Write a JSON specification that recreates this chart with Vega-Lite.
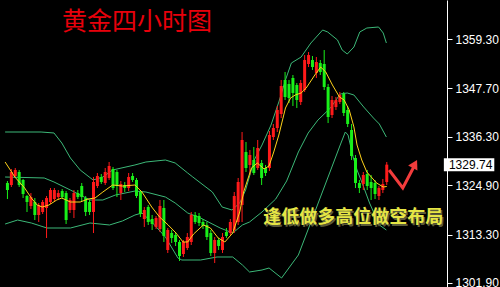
{
  "$schema": "https://vega.github.io/schema/vega-lite/v6.json",
  "width": 447,
  "height": 287,
  "autosize": {"type": "none"},
  "padding": {"left": 0, "top": 0, "right": 53, "bottom": 0},
  "background": "#000000",
  "config": {
    "view": {"stroke": null},
    "axis": {"grid": false}
  },
  "datasets": {
    "candles": [
      {"t":0,"o":1325.42,"h":1325.89,"l":1321.65,"c":1323.77},
      {"t":1,"o":1324.95,"h":1328.72,"l":1324.48,"c":1328.01},
      {"t":2,"o":1327.07,"h":1328.95,"l":1326.83,"c":1328.48},
      {"t":3,"o":1328.01,"h":1328.48,"l":1324.48,"c":1324.95},
      {"t":4,"o":1326.13,"h":1326.37,"l":1321.89,"c":1322.83},
      {"t":5,"o":1322.36,"h":1322.59,"l":1318.60,"c":1320.95},
      {"t":6,"o":1320.01,"h":1323.06,"l":1319.31,"c":1322.12},
      {"t":7,"o":1320.95,"h":1321.89,"l":1316.71,"c":1317.89},
      {"t":8,"o":1317.89,"h":1320.71,"l":1316.24,"c":1320.24},
      {"t":9,"o":1318.60,"h":1321.42,"l":1318.13,"c":1320.95},
      {"t":10,"o":1319.54,"h":1322.36,"l":1312.48,"c":1321.89},
      {"t":11,"o":1320.95,"h":1324.24,"l":1320.48,"c":1323.77},
      {"t":12,"o":1321.65,"h":1324.24,"l":1321.18,"c":1323.77},
      {"t":13,"o":1322.12,"h":1323.77,"l":1321.65,"c":1323.06},
      {"t":14,"o":1323.53,"h":1324.01,"l":1321.65,"c":1322.12},
      {"t":15,"o":1323.06,"h":1323.53,"l":1315.77,"c":1316.71},
      {"t":16,"o":1319.07,"h":1321.89,"l":1318.36,"c":1321.42},
      {"t":17,"o":1319.07,"h":1323.77,"l":1317.18,"c":1323.06},
      {"t":18,"o":1323.06,"h":1323.77,"l":1321.65,"c":1322.12},
      {"t":19,"o":1324.71,"h":1325.42,"l":1321.18,"c":1322.12},
      {"t":20,"o":1321.89,"h":1322.36,"l":1317.65,"c":1318.60},
      {"t":21,"o":1320.95,"h":1321.42,"l":1317.89,"c":1318.60},
      {"t":22,"o":1318.60,"h":1326.83,"l":1313.65,"c":1325.66},
      {"t":23,"o":1324.71,"h":1327.77,"l":1324.24,"c":1327.07},
      {"t":24,"o":1326.83,"h":1327.54,"l":1325.19,"c":1325.66},
      {"t":25,"o":1325.42,"h":1328.95,"l":1324.95,"c":1328.01},
      {"t":26,"o":1326.60,"h":1330.36,"l":1326.13,"c":1329.42},
      {"t":27,"o":1328.72,"h":1329.19,"l":1323.77,"c":1324.24},
      {"t":28,"o":1328.01,"h":1328.48,"l":1322.12,"c":1324.71},
      {"t":29,"o":1323.06,"h":1325.89,"l":1321.42,"c":1325.19},
      {"t":30,"o":1324.95,"h":1325.66,"l":1323.30,"c":1324.24},
      {"t":31,"o":1324.24,"h":1327.77,"l":1323.53,"c":1326.83},
      {"t":32,"o":1327.07,"h":1327.77,"l":1325.66,"c":1326.13},
      {"t":33,"o":1326.13,"h":1326.60,"l":1321.89,"c":1322.36},
      {"t":34,"o":1323.30,"h":1323.77,"l":1317.42,"c":1318.13},
      {"t":35,"o":1316.95,"h":1319.77,"l":1315.07,"c":1319.07},
      {"t":36,"o":1319.77,"h":1320.24,"l":1315.54,"c":1316.24},
      {"t":37,"o":1316.95,"h":1317.89,"l":1314.36,"c":1315.77},
      {"t":38,"o":1315.07,"h":1317.65,"l":1314.60,"c":1317.18},
      {"t":39,"o":1314.60,"h":1321.42,"l":1313.89,"c":1320.01},
      {"t":40,"o":1319.54,"h":1321.42,"l":1311.54,"c":1312.95},
      {"t":41,"o":1309.66,"h":1314.83,"l":1308.95,"c":1314.36},
      {"t":42,"o":1313.65,"h":1314.36,"l":1311.30,"c":1312.48},
      {"t":43,"o":1313.18,"h":1313.89,"l":1310.60,"c":1311.54},
      {"t":44,"o":1311.54,"h":1312.01,"l":1307.07,"c":1308.24},
      {"t":45,"o":1308.71,"h":1312.01,"l":1308.01,"c":1311.54},
      {"t":46,"o":1310.13,"h":1313.65,"l":1309.66,"c":1312.71},
      {"t":47,"o":1311.54,"h":1318.60,"l":1310.83,"c":1317.89},
      {"t":48,"o":1317.89,"h":1318.60,"l":1315.77,"c":1316.24},
      {"t":49,"o":1317.65,"h":1318.36,"l":1315.30,"c":1316.01},
      {"t":50,"o":1316.24,"h":1316.95,"l":1314.60,"c":1315.30},
      {"t":51,"o":1315.54,"h":1316.24,"l":1312.01,"c":1312.71},
      {"t":52,"o":1313.65,"h":1314.36,"l":1308.24,"c":1308.95},
      {"t":53,"o":1308.95,"h":1312.71,"l":1306.59,"c":1312.01},
      {"t":54,"o":1312.01,"h":1312.48,"l":1309.66,"c":1310.60},
      {"t":55,"o":1309.66,"h":1313.65,"l":1308.95,"c":1312.71},
      {"t":56,"o":1313.89,"h":1314.83,"l":1312.48,"c":1312.95},
      {"t":57,"o":1313.65,"h":1316.95,"l":1313.18,"c":1316.24},
      {"t":58,"o":1314.36,"h":1323.30,"l":1313.65,"c":1322.36},
      {"t":59,"o":1316.24,"h":1326.60,"l":1315.54,"c":1325.66},
      {"t":60,"o":1320.24,"h":1337.42,"l":1316.24,"c":1335.54},
      {"t":61,"o":1332.71,"h":1335.07,"l":1328.01,"c":1328.95},
      {"t":62,"o":1329.66,"h":1333.19,"l":1327.30,"c":1332.01},
      {"t":63,"o":1330.83,"h":1333.89,"l":1327.30,"c":1327.77},
      {"t":64,"o":1328.95,"h":1335.54,"l":1328.48,"c":1333.65},
      {"t":65,"o":1330.13,"h":1330.83,"l":1324.95,"c":1326.60},
      {"t":66,"o":1328.95,"h":1329.66,"l":1327.07,"c":1327.77},
      {"t":67,"o":1328.95,"h":1337.65,"l":1328.24,"c":1336.71},
      {"t":68,"o":1336.24,"h":1339.30,"l":1335.54,"c":1338.36},
      {"t":69,"o":1338.36,"h":1343.54,"l":1337.42,"c":1342.60},
      {"t":70,"o":1341.66,"h":1349.66,"l":1340.71,"c":1348.25},
      {"t":71,"o":1349.66,"h":1351.54,"l":1344.95,"c":1345.66},
      {"t":72,"o":1348.72,"h":1349.66,"l":1344.24,"c":1345.42},
      {"t":73,"o":1350.13,"h":1350.83,"l":1343.54,"c":1346.60},
      {"t":74,"o":1348.48,"h":1348.95,"l":1343.07,"c":1344.95},
      {"t":75,"o":1344.48,"h":1349.66,"l":1343.77,"c":1348.95},
      {"t":76,"o":1347.30,"h":1355.53,"l":1346.83,"c":1354.36},
      {"t":77,"o":1353.42,"h":1356.24,"l":1352.71,"c":1355.53},
      {"t":78,"o":1354.36,"h":1355.30,"l":1352.01,"c":1352.71},
      {"t":79,"o":1351.30,"h":1355.07,"l":1350.13,"c":1353.89},
      {"t":80,"o":1353.65,"h":1354.36,"l":1350.83,"c":1351.54},
      {"t":81,"o":1353.42,"h":1356.71,"l":1347.30,"c":1348.01},
      {"t":82,"o":1348.01,"h":1348.72,"l":1339.53,"c":1340.95},
      {"t":83,"o":1341.42,"h":1345.89,"l":1340.71,"c":1344.95},
      {"t":84,"o":1343.30,"h":1345.66,"l":1342.60,"c":1344.95},
      {"t":85,"o":1344.48,"h":1346.83,"l":1344.01,"c":1346.13},
      {"t":86,"o":1346.36,"h":1346.83,"l":1341.18,"c":1341.89},
      {"t":87,"o":1342.60,"h":1343.54,"l":1338.59,"c":1339.30},
      {"t":88,"o":1337.89,"h":1339.30,"l":1330.83,"c":1331.77},
      {"t":89,"o":1331.30,"h":1332.01,"l":1324.24,"c":1325.42},
      {"t":90,"o":1325.42,"h":1326.13,"l":1323.06,"c":1324.24},
      {"t":91,"o":1325.19,"h":1328.01,"l":1323.77,"c":1327.30},
      {"t":92,"o":1327.54,"h":1328.48,"l":1323.77,"c":1324.71},
      {"t":93,"o":1325.66,"h":1327.30,"l":1321.42,"c":1324.24},
      {"t":94,"o":1325.42,"h":1326.13,"l":1321.65,"c":1322.83},
      {"t":95,"o":1322.36,"h":1324.71,"l":1321.42,"c":1324.24},
      {"t":96,"o":1323.77,"h":1326.37,"l":1323.06,"c":1325.19},
      {"t":97,"o":1325.66,"h":1330.36,"l":1324.95,"c":1329.74}
    ],
    "lines": [
      {"s":"upper","t":-0.6,"p":1337.42},{"s":"upper","t":8.6,"p":1337.42},{"s":"upper","t":11.9,"p":1337.19},
      {"s":"upper","t":13.9,"p":1334.83},{"s":"upper","t":16.1,"p":1331.31},{"s":"upper","t":18.6,"p":1328.48},
      {"s":"upper","t":21.9,"p":1326.13},{"s":"upper","t":24.4,"p":1326.83},{"s":"upper","t":26.9,"p":1328.48},
      {"s":"upper","t":32.6,"p":1329.66},{"s":"upper","t":35.4,"p":1330.36},{"s":"upper","t":40.4,"p":1330.83},
      {"s":"upper","t":42.9,"p":1330.13},{"s":"upper","t":46.1,"p":1327.77},{"s":"upper","t":47.4,"p":1326.83},
      {"s":"upper","t":52.4,"p":1323.30},{"s":"upper","t":54.9,"p":1319.77},{"s":"upper","t":57.4,"p":1319.07},
      {"s":"upper","t":59.4,"p":1320.71},{"s":"upper","t":60.9,"p":1323.77},{"s":"upper","t":63.1,"p":1330.83},
      {"s":"upper","t":65.1,"p":1334.36},{"s":"upper","t":67.4,"p":1339.06},{"s":"upper","t":69.4,"p":1344.48},
      {"s":"upper","t":71.1,"p":1349.66},{"s":"upper","t":72.6,"p":1353.65},{"s":"upper","t":75.1,"p":1355.06},
      {"s":"upper","t":77.6,"p":1358.36},{"s":"upper","t":80.6,"p":1361.42},{"s":"upper","t":81.9,"p":1360.95},
      {"s":"upper","t":84.4,"p":1359.07},{"s":"upper","t":85.6,"p":1356.71},{"s":"upper","t":86.9,"p":1355.77},
      {"s":"upper","t":88.6,"p":1357.42},{"s":"upper","t":90.1,"p":1360.95},{"s":"upper","t":91.9,"p":1361.89},
      {"s":"upper","t":94.9,"p":1362.13},{"s":"upper","t":96.1,"p":1360.71},{"s":"upper","t":96.9,"p":1358.36},

      {"s":"mid","t":-0.6,"p":1326.83},{"s":"mid","t":9.4,"p":1326.60},{"s":"mid","t":11.9,"p":1325.66},
      {"s":"mid","t":16.1,"p":1323.77},{"s":"mid","t":21.1,"p":1321.42},{"s":"mid","t":24.4,"p":1321.42},
      {"s":"mid","t":27.6,"p":1322.59},{"s":"mid","t":32.6,"p":1323.53},{"s":"mid","t":35.4,"p":1323.30},
      {"s":"mid","t":40.4,"p":1322.12},{"s":"mid","t":42.9,"p":1320.71},{"s":"mid","t":46.1,"p":1318.36},
      {"s":"mid","t":49.4,"p":1317.18},{"s":"mid","t":54.4,"p":1314.83},{"s":"mid","t":57.6,"p":1313.65},
      {"s":"mid","t":60.1,"p":1315.54},{"s":"mid","t":61.9,"p":1316.24},{"s":"mid","t":65.1,"p":1318.60},
      {"s":"mid","t":68.6,"p":1321.65},{"s":"mid","t":71.4,"p":1325.89},{"s":"mid","t":74.4,"p":1332.72},
      {"s":"mid","t":76.9,"p":1337.18},{"s":"mid","t":79.4,"p":1340.24},{"s":"mid","t":82.6,"p":1343.07},
      {"s":"mid","t":85.1,"p":1346.36},{"s":"mid","t":86.9,"p":1346.60},{"s":"mid","t":88.6,"p":1346.13},
      {"s":"mid","t":91.1,"p":1343.30},{"s":"mid","t":93.6,"p":1340.71},{"s":"mid","t":95.1,"p":1339.30},
      {"s":"mid","t":96.9,"p":1336.24},

      {"s":"lower","t":-0.6,"p":1315.77},{"s":"lower","t":2.6,"p":1316.71},{"s":"lower","t":6.1,"p":1316.01},
      {"s":"lower","t":10.1,"p":1314.83},{"s":"lower","t":16.1,"p":1314.83},{"s":"lower","t":21.1,"p":1316.01},
      {"s":"lower","t":26.1,"p":1315.54},{"s":"lower","t":29.4,"p":1316.48},{"s":"lower","t":32.6,"p":1317.89},
      {"s":"lower","t":34.4,"p":1318.36},{"s":"lower","t":36.9,"p":1316.24},{"s":"lower","t":40.4,"p":1312.71},
      {"s":"lower","t":43.6,"p":1307.77},{"s":"lower","t":44.6,"p":1307.30},{"s":"lower","t":49.4,"p":1307.30},
      {"s":"lower","t":53.6,"p":1308.01},{"s":"lower","t":57.6,"p":1308.01},{"s":"lower","t":60.1,"p":1306.12},
      {"s":"lower","t":61.9,"p":1304.48},{"s":"lower","t":65.1,"p":1304.95},{"s":"lower","t":66.9,"p":1305.42},
      {"s":"lower","t":70.1,"p":1303.07},{"s":"lower","t":74.4,"p":1308.48},{"s":"lower","t":78.6,"p":1318.60},
      {"s":"lower","t":81.9,"p":1326.60},{"s":"lower","t":85.1,"p":1334.36},{"s":"lower","t":86.4,"p":1337.42},
      {"s":"lower","t":87.1,"p":1336.71},{"s":"lower","t":88.4,"p":1331.54},{"s":"lower","t":89.4,"p":1328.48},
      {"s":"lower","t":90.9,"p":1324.95},{"s":"lower","t":92.6,"p":1320.71},{"s":"lower","t":95.1,"p":1315.54},
      {"s":"lower","t":96.9,"p":1314.36}
    ],
    "ma": [
      {"t":-0.6,"p":1330.36},{"t":1.9,"p":1326.83},{"t":4.4,"p":1324.24},{"t":6.1,"p":1321.89},
      {"t":7.6,"p":1320.24},{"t":8.9,"p":1319.77},{"t":10.6,"p":1320.24},{"t":12.6,"p":1321.42},
      {"t":13.9,"p":1321.89},{"t":16.1,"p":1320.95},{"t":18.6,"p":1320.95},{"t":20.6,"p":1321.65},
      {"t":22.4,"p":1321.89},{"t":24.4,"p":1323.30},{"t":26.9,"p":1324.95},{"t":29.4,"p":1324.71},
      {"t":32.6,"p":1324.95},{"t":34.4,"p":1323.30},{"t":36.9,"p":1319.77},{"t":38.9,"p":1317.42},
      {"t":41.1,"p":1315.54},{"t":43.1,"p":1313.65},{"t":44.9,"p":1311.54},{"t":46.1,"p":1311.54},
      {"t":47.6,"p":1313.42},{"t":50.1,"p":1315.54},{"t":51.9,"p":1314.83},{"t":53.9,"p":1312.48},
      {"t":55.6,"p":1311.54},{"t":57.6,"p":1313.65},{"t":59.4,"p":1318.60},{"t":60.4,"p":1323.30},
      {"t":62.4,"p":1328.95},{"t":63.9,"p":1330.13},{"t":65.6,"p":1328.72},{"t":66.9,"p":1329.42},
      {"t":68.1,"p":1332.72},{"t":69.4,"p":1336.71},{"t":71.1,"p":1343.07},{"t":72.4,"p":1345.42},
      {"t":73.6,"p":1346.13},{"t":75.1,"p":1346.60},{"t":76.4,"p":1347.77},{"t":78.6,"p":1350.83},
      {"t":80.1,"p":1352.71},{"t":81.4,"p":1351.54},{"t":83.1,"p":1348.48},{"t":84.9,"p":1345.66},
      {"t":86.1,"p":1344.95},{"t":87.4,"p":1342.60},{"t":88.6,"p":1338.60},{"t":89.4,"p":1334.36},
      {"t":90.6,"p":1330.83},{"t":91.9,"p":1328.01},{"t":94.4,"p":1325.42},{"t":96.1,"p":1324.48},
      {"t":97,"p":1324.60}
    ],
    "arrow": [
      {"t":97.6,"p":1328.48},{"t":101.1,"p":1324.24},{"t":103.9,"p":1329.19}
    ]
  },
  "layer": [
    {
      "data": {"name": "lines"},
      "mark": {"type": "line", "strokeWidth": 1, "interpolate": "linear"},
      "encoding": {
        "x": {"field": "t", "type": "quantitative", "axis": null, "title": null,
              "scale": {"domain": [-0.625, 111.125], "nice": false, "zero": false}},
        "y": {"field": "p", "type": "quantitative", "title": null,
              "scale": {"domain": [1300.95, 1368.48], "nice": false, "zero": false},
              "axis": {"orient": "right", "values": [1301.9, 1313.3, 1324.9, 1336.3, 1347.7, 1359.3],
                       "format": ".2f", "labelColor": "#ffffff", "labelFont": "Liberation Sans",
                       "labelFontSize": 12, "tickColor": "#ffffff", "domainColor": "#ffffff",
                       "tickSize": 5, "labelPadding": 3, "labelFlush": false, "labelOverlap": false,
                       "grid": false}},
        "detail": {"field": "s"},
        "color": {"value": "#3cb878"}
      }
    },
    {
      "data": {"name": "candles"},
      "mark": {"type": "rule", "strokeWidth": 1},
      "encoding": {
        "x": {"field": "t", "type": "quantitative", "axis": null, "title": null},
        "y": {"field": "l", "type": "quantitative", "title": null},
        "y2": {"field": "h"},
        "color": {"condition": {"test": "datum.c >= datum.o", "value": "#ff1a1a"}, "value": "#19f019"}
      }
    },
    {
      "data": {"name": "candles"},
      "mark": {"type": "bar", "size": 3},
      "encoding": {
        "x": {"field": "t", "type": "quantitative", "axis": null, "title": null},
        "y": {"field": "o", "type": "quantitative", "title": null},
        "y2": {"field": "c"},
        "color": {"condition": {"test": "datum.c >= datum.o", "value": "#ff1a1a"}, "value": "#19f019"}
      }
    },
    {
      "data": {"name": "ma"},
      "mark": {"type": "line", "strokeWidth": 1, "color": "#ffd21a"},
      "encoding": {
        "x": {"field": "t", "type": "quantitative", "axis": null, "title": null},
        "y": {"field": "p", "type": "quantitative", "title": null}
      }
    },
    {
      "data": {"name": "arrow"},
      "mark": {"type": "line", "strokeWidth": 3, "color": "#f23c3c", "strokeJoin": "miter"},
      "encoding": {
        "x": {"field": "t", "type": "quantitative", "axis": null, "title": null},
        "y": {"field": "p", "type": "quantitative", "title": null}
      }
    },
    {
      "data": {"values": [{"t": 104.2, "p": 1329.9}]},
      "mark": {"type": "point", "shape": "triangle-up", "filled": true, "size": 110, "angle": 28, "color": "#f23c3c", "opacity": 1},
      "encoding": {
        "x": {"field": "t", "type": "quantitative", "axis": null, "title": null},
        "y": {"field": "p", "type": "quantitative", "title": null}
      }
    },
    {
      "data": {"values": [{"label": "黄金四小时图"}]},
      "mark": {"type": "text", "font": "Noto Sans CJK SC", "fontSize": 25, "color": "#e8000b", "align": "center", "baseline": "middle"},
      "encoding": {
        "x": {"datum": 33.1, "type": "quantitative"},
        "y": {"datum": 1363.3, "type": "quantitative"},
        "text": {"field": "label"}
      }
    },
    {
      "data": {"values": [{"label": "逢低做多高位做空布局"}]},
      "mark": {"type": "text", "font": "Noto Sans CJK SC", "fontSize": 18, "fontWeight": "bold", "color": "#5a5a3a", "align": "center", "baseline": "middle", "dx": 1.5, "dy": 1.5},
      "encoding": {
        "x": {"datum": 88.4, "type": "quantitative"},
        "y": {"datum": 1317.07, "type": "quantitative"},
        "text": {"field": "label"}
      }
    },
    {
      "data": {"values": [{"label": "逢低做多高位做空布局"}]},
      "mark": {"type": "text", "font": "Noto Sans CJK SC", "fontSize": 18, "fontWeight": "bold", "color": "#e6e645", "align": "center", "baseline": "middle"},
      "encoding": {
        "x": {"datum": 88.4, "type": "quantitative"},
        "y": {"datum": 1317.07, "type": "quantitative"},
        "text": {"field": "label"}
      }
    },
    {
      "data": {"values": [{"price": 1329.74}]},
      "mark": {"type": "rect", "color": "#ffffff"},
      "encoding": {
        "x": {"datum": 111.6, "type": "quantitative"},
        "x2": {"datum": 124.5},
        "y": {"datum": 1331.27, "type": "quantitative"},
        "y2": {"datum": 1328.21}
      }
    },
    {
      "data": {"values": [{"price": 1329.74}]},
      "mark": {"type": "text", "font": "Liberation Sans", "fontSize": 12, "color": "#000000", "align": "left", "baseline": "middle"},
      "encoding": {
        "x": {"datum": 112.9, "type": "quantitative"},
        "y": {"field": "price", "type": "quantitative", "title": null},
        "text": {"field": "price", "type": "quantitative", "format": ".2f"}
      }
    }
  ]
}
